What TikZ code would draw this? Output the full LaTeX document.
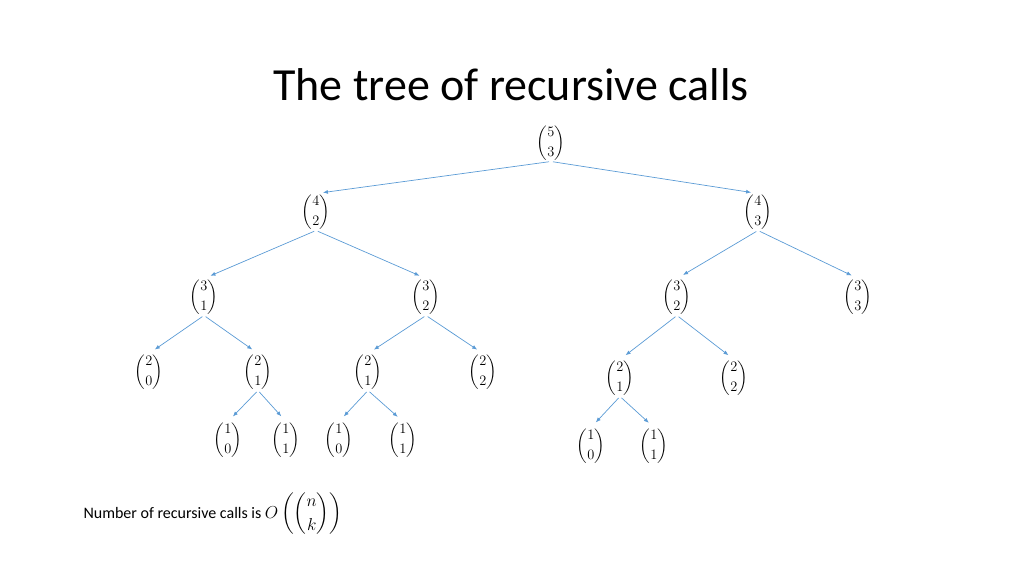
\documentclass[tikz,border=0pt]{standalone}
\usepackage{amsmath}
\usepackage{fontspec}
\setmainfont{Carlito}
\usetikzlibrary{arrows.meta}
\begin{document}
\begin{tikzpicture}[x=1pt,y=-1pt,
  bn/.style={inner sep=1pt,font=\fontsize{15}{17}\selectfont},
  edge/.style={draw={rgb,255:red,91;green,155;blue,213},line width=0.7pt,-{Latex[length=5pt,width=4pt]},shorten >=7pt,shorten <=2pt}]
\useasboundingbox (0,0) rectangle (1024,576);
\node (title) at (511,85) {\fontsize{46}{50}\selectfont The tree of recursive calls};
\newcommand\bnode[4]{\node[bn] (#1) at (#2) {$\displaystyle\binom{#3}{#4}$};}
\bnode{r}{551,143}{5}{3}
\bnode{a}{316,212}{4}{2}
\bnode{b}{758,212}{4}{3}
\bnode{a1}{204,297}{3}{1}
\bnode{a2}{426,297}{3}{2}
\bnode{b1}{677,297}{3}{2}
\bnode{b2}{858,297}{3}{3}
\bnode{c1}{149,372}{2}{0}
\bnode{c2}{258,372}{2}{1}
\bnode{c3}{368,372}{2}{1}
\bnode{c4}{483,372}{2}{2}
\bnode{c5}{620,378}{2}{1}
\bnode{c6}{734,378}{2}{2}
\bnode{d1}{228,440}{1}{0}
\bnode{d2}{286,440}{1}{1}
\bnode{d3}{339,440}{1}{0}
\bnode{d4}{403,440}{1}{1}
\bnode{d5}{591,446}{1}{0}
\bnode{d6}{654,446}{1}{1}
\foreach \p/\c in {r/a,r/b,a/a1,a/a2,b/b1,b/b2,a1/c1,a1/c2,a2/c3,a2/c4,b1/c5,b1/c6,c2/d1,c2/d2,c3/d3,c3/d4,c5/d5,c5/d6}
  \draw[edge] (\p.south) -- (\c.north);
\node[anchor=west,font=\fontsize{16}{18}\selectfont] (txt) at (80,514) {Number of recursive calls is $O\left(\displaystyle\binom{n}{k}\right)$};
\end{tikzpicture}
\end{document}
